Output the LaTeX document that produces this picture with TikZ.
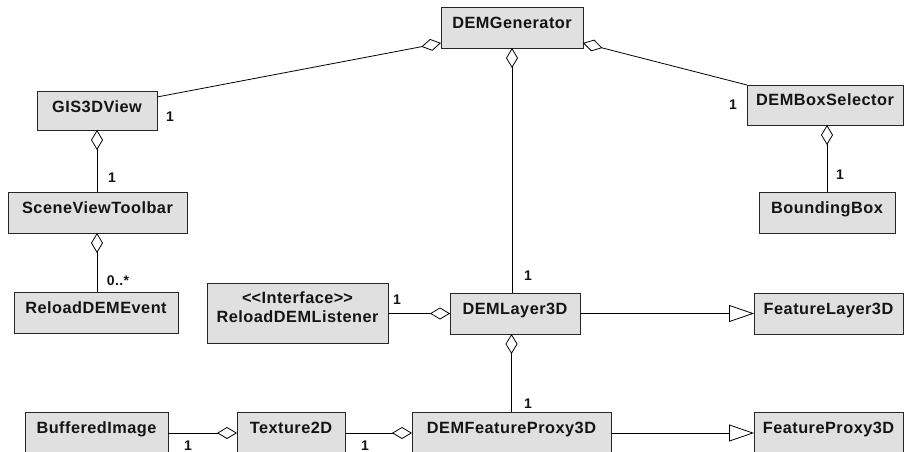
\documentclass[tikz,border=0pt]{standalone}
\usepackage{fontspec}
\setmainfont{Liberation Sans}[LetterSpace=3]
\usetikzlibrary{arrows.meta}
\definecolor{boxfill}{RGB}{224,224,224}
\definecolor{txtc}{RGB}{20,20,20}
\begin{document}
\begin{tikzpicture}[x=1pt,y=-1pt,
 cls/.style={draw=black!85, fill=boxfill, line width=0.8pt, anchor=north west, inner sep=0pt, outer sep=0pt},
 nm/.style={anchor=base, inner sep=0pt, font=\fontsize{16.3}{19}\selectfont\bfseries, text=txtc},
 mul/.style={inner sep=0pt, font=\fontsize{14}{16}\selectfont\bfseries, text=txtc},
 conn/.style={line width=0.8pt, draw=black},
 agg/.style={conn, {Diamond[open, length=20pt, width=12pt]}-},
 inh/.style={conn, -{Triangle[open, length=25pt, width=17pt]}},
]
\clip (0,0) rectangle (904,452);
\fill[white] (0,0) rectangle (904,452);

% boxes
\node[cls, minimum width=142pt, minimum height=41pt] (gen) at (441,7) {};
\node[cls, minimum width=120pt, minimum height=39pt] (gis) at (37,91) {};
\node[cls, minimum width=179pt, minimum height=41pt] (svt) at (8,192) {};
\node[cls, minimum width=164pt, minimum height=41pt] (rde) at (14,292) {};
\node[cls, minimum width=181pt, minimum height=60pt] (lis) at (207,283) {};
\node[cls, minimum width=130pt, minimum height=41pt] (lay) at (450,293) {};
\node[cls, minimum width=149pt, minimum height=41pt] (fl3) at (754,293) {};
\node[cls, minimum width=156pt, minimum height=40pt] (dbs) at (747,85) {};
\node[cls, minimum width=136pt, minimum height=41pt] (bb) at (759,192) {};
\node[cls, minimum width=143pt, minimum height=50pt] (bi) at (25,412) {};
\node[cls, minimum width=108pt, minimum height=50pt] (tex) at (237,412) {};
\node[cls, minimum width=199pt, minimum height=50pt] (fp) at (412,412) {};
\node[cls, minimum width=149pt, minimum height=50pt] (fpx) at (754,412) {};

% texts
\node[nm] (tgen) at ([yshift=-21.5pt]gen.north) {DEMGenerator};
\node[nm] (tgis) at ([yshift=-21pt]gis.north) {GIS3DView};
\node[nm] (tsvt) at ([yshift=-21pt]svt.north) {SceneViewToolbar};
\node[nm] (trde) at ([yshift=-21.5pt]rde.north) {ReloadDEMEvent};
\node[nm] (tlis1) at ([yshift=-20pt]lis.north) {<\kern0pt<Interface>\kern0pt>};
\node[nm] (tlis2) at ([yshift=-39pt]lis.north) {ReloadDEMListener};
\node[nm] (tlay) at ([yshift=-21pt]lay.north) {DEMLayer3D};
\node[nm] (tfl3) at ([yshift=-21pt]fl3.north) {FeatureLayer3D};
\node[nm] (tdbs) at ([yshift=-20pt]dbs.north) {DEMBoxSelector};
\node[nm] (tbb) at ([yshift=-21.5pt]bb.north) {BoundingBox};
\node[nm] (tbi) at ([yshift=-21pt]bi.north) {BufferedImage};
\node[nm] (ttex) at ([yshift=-21pt]tex.north) {Texture2D};
\node[nm] (tfp) at ([yshift=-21pt]fp.north) {DEMFeatureProxy3D};
\node[nm] (tfpx) at ([yshift=-21pt]fpx.north) {FeatureProxy3D};

% connectors
\draw[agg] ([yshift=5pt]gen.south west) -- ([yshift=-6pt]gis.north east);
\draw[agg] ([yshift=5pt]gen.south east) -- (dbs.north west);
\draw[agg] (gen.south) -- (gen.south |- lay.north);
\draw[agg] (gis.south) -- (gis.south |- svt.north);
\draw[agg] (gis.south |- svt.south) -- (gis.south |- rde.north);
\draw[agg] (bb.north |- dbs.south) -- (bb.north);
\draw[agg] (lay.west) -- (lay.west -| lis.east);
\draw[inh] (lay.east) -- (fl3.west);
\draw[agg] (fp.north |- lay.south) -- (fp.north);
\draw[agg] ([yshift=-21pt]tex.north west) -- ([yshift=-21pt]tex.north west -| bi.east);
\draw[agg] ([yshift=-21pt]fp.north west) -- ([yshift=-21pt]fp.north west -| tex.east);
\draw[inh] ([yshift=-21pt]fp.north east) -- ([yshift=-21pt]fp.north east -| fpx.west);

% multiplicities
\node[mul] (m1) at (170,117) {1};
\node[mul] (m2) at (112,178) {1};
\node[mul] (m3) at (118,281) {0..*};
\node[mul] (m4) at (733,105) {1};
\node[mul] (m5) at (840,175) {1};
\node[mul] (m6) at (397,300) {1};
\node[mul] (m7) at (528,276) {1};
\node[mul] (m8) at (528,404) {1};
\node[mul, anchor=north] (m9) at (188,441) {1};
\node[mul, anchor=north] (m10) at (365,441) {1};
\end{tikzpicture}
\end{document}
